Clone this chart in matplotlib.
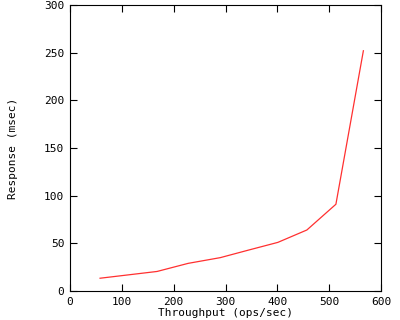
import matplotlib
matplotlib.use("Agg")
import matplotlib.pyplot as plt

throughput = [58, 168, 228, 290, 345, 401, 457, 513, 566]
response = [13.4, 20.5, 29, 35, 43, 51, 64, 91, 252]
xticks = [0, 100, 200, 300, 400, 500, 600]
yticks = [0, 50, 100, 150, 200, 250, 300]

plt.rcParams['font.family'] = ['DejaVu Sans Mono']
fig = plt.figure(figsize=(4, 3.2), dpi=100)
ax = fig.add_axes([70/400, 29/320, 311/400, 286/320])
ax.plot(throughput, response, color='#ff3030', linewidth=0.9)
ax.set_xlim(0, 600)
ax.set_ylim(0, 300)
ax.set_xticks(xticks)
ax.set_yticks(yticks)
ax.tick_params(direction='in', length=5, width=0.8, top=True, right=True,
               labelsize=8, pad=4)
for s in ax.spines.values():
    s.set_linewidth(0.8)
ax.set_xlabel('Throughput (ops/sec)', fontsize=8, labelpad=1)
ax.set_ylabel('Response (msec)', fontsize=8, labelpad=19)
fig.savefig('out.png', dpi=100)
